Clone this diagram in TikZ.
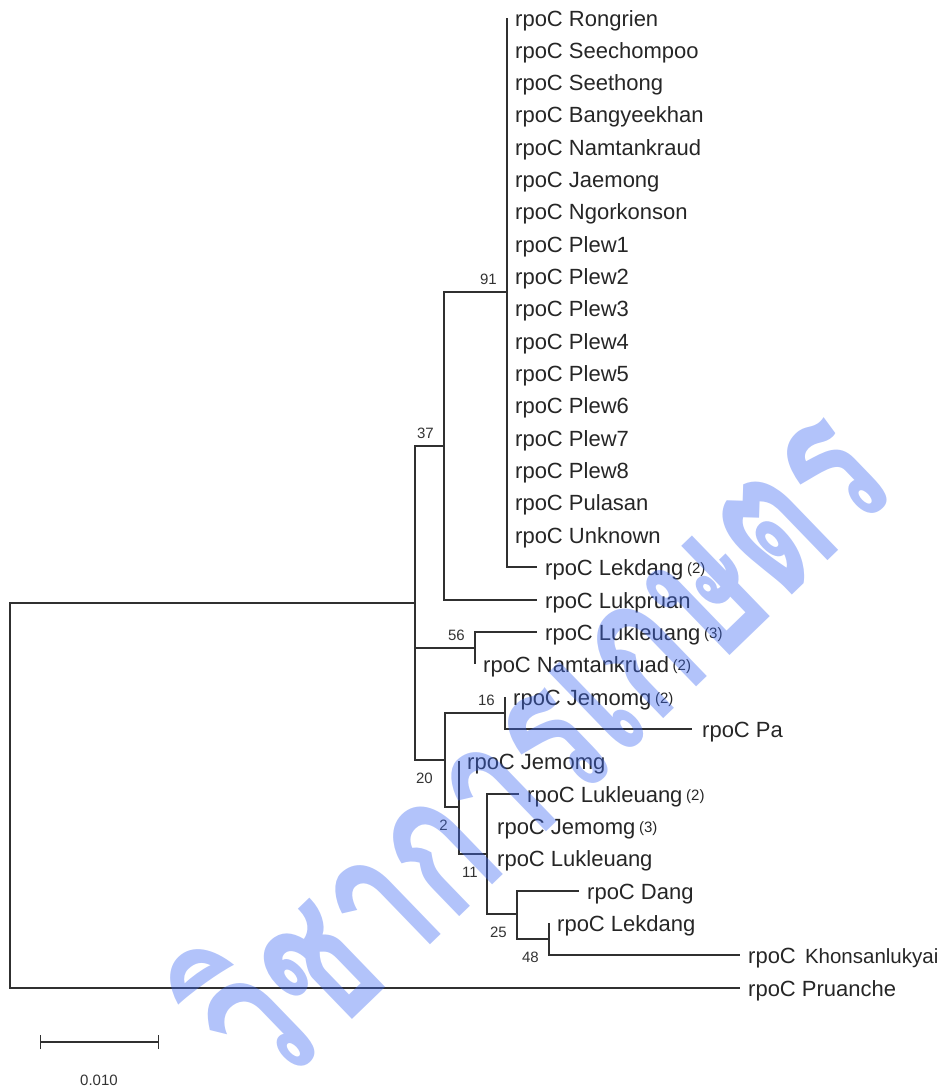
\documentclass[tikz,border=0pt]{standalone}
\usepackage{graphicx}
\usepackage{fontspec}
\setmainfont{Liberation Sans}
\newfontfamily\thaifont[Script=Thai]{Loma}
\usetikzlibrary{positioning, arrows.meta}
\definecolor{brcolor}{HTML}{303030}
\definecolor{wmcolor}{HTML}{3E69F2}

\newcommand{\cnt}[1]{\,\raisebox{2pt}{\fontsize{15}{17}\selectfont(#1)}}

\begin{document}
\begin{tikzpicture}[
    x=1pt, y=-1pt,
    br/.style={draw=brcolor, line width=1.4pt},
    taxon/.style={anchor=west, inner sep=0pt, text height=16pt, text depth=0pt, font=\fontsize{22}{26}\selectfont, text=black!85},
    bsup/.style={anchor=base east, inner sep=0pt, font=\fontsize{15}{18}\selectfont, text=black!80, xshift=-10pt, yshift=8pt},
    bsdn/.style={anchor=base east, inner sep=0pt, font=\fontsize{15}{18}\selectfont, text=black!80, xshift=-11pt, yshift=-23pt},
    wm/.style={rotate=44, inner sep=0pt, text=wmcolor, opacity=0.4, font=\thaifont\bfseries\fontsize{139}{160}\selectfont},
  ]
    \useasboundingbox (0,0) rectangle (949,1090);

    % inner nodes
    \coordinate (root) at (10,795);
    \coordinate (nin) at (415,603);
    \coordinate (n37) at (444,446);
    \coordinate (n91) at (507,292);
    \coordinate (n56) at (475,648);
    \coordinate (n20) at (445,760);
    \coordinate (n16) at (505,713);
    \coordinate (n2) at (459,807);
    \coordinate (n11) at (487,854);
    \coordinate (n25) at (517,914);
    \coordinate (n48) at (549,939);

    % big clade, zero length tips
    \foreach \name [count=\i from 0] in {Rongrien, Seechompoo, Seethong, Bangyeekhan, Namtankraud, Jaemong, Ngorkonson, Plew1, Plew2, Plew3, Plew4, Plew5, Plew6, Plew7, Plew8, Pulasan, Unknown} {
      \coordinate (t\i) at (507,{18+32.33*\i});
      \node[taxon, right=8pt of t\i] (l\i) {rpoC \name};
    }

    % other tips
    \coordinate (t17) at (537,567);
    \coordinate (t18) at (537,600);
    \coordinate (t19) at (537,632);
    \coordinate (t20) at (475,664);
    \coordinate (t21) at (505,697);
    \coordinate (t22) at (692,729);
    \coordinate (t23) at (459,761);
    \coordinate (t24) at (519,794);
    \coordinate (t25) at (487,826);
    \coordinate (t26) at (487,858);
    \coordinate (t27) at (579,891);
    \coordinate (t28) at (549,923);
    \coordinate (t29) at (740,955);
    \coordinate (t30) at (740,988);

    \node[taxon, right=8pt of t17] (l17) {rpoC Lekdang\cnt{2}};
    \node[taxon, right=8pt of t18] (l18) {rpoC Lukpruan};
    \node[taxon, right=8pt of t19] (l19) {rpoC Lukleuang\cnt{3}};
    \node[taxon, right=8pt of t20] (l20) {rpoC Namtankruad\cnt{2}};
    \node[taxon, right=8pt of t21] (l21) {rpoC Jemomg\cnt{2}};
    \node[taxon, right=10pt of t22] (l22) {rpoC Pa};
    \node[taxon, right=8pt of t23] (l23) {rpoC Jemomg};
    \node[taxon, right=8pt of t24] (l24) {rpoC Lukleuang\cnt{2}};
    \node[taxon, right=10pt of t25] (l25) {rpoC Jemomg\cnt{3}};
    \node[taxon, right=10pt of t26] (l26) {rpoC Lukleuang};
    \node[taxon, right=8pt of t27] (l27) {rpoC Dang};
    \node[taxon, right=8pt of t28] (l28) {rpoC Lekdang};
    \node[taxon, right=8pt of t29] (l29) {rpoC\hspace{3pt} {\fontsize{20.5}{24}\selectfont Khonsanlukyai}};
    \node[taxon, right=8pt of t30] (l30) {rpoC Pruanche};

    % branches
    \draw[br] (t0) -- (t16);
    \draw[br] (n91) |- (t17);
    \draw[br] (n37) |- (n91);
    \draw[br] (n37) |- (t18);
    \draw[br] (nin) |- (n37);
    \draw[br] (nin) |- (n56);
    \draw[br] (nin) |- (n20);
    \draw[br] (root) |- (nin);
    \draw[br] (root) |- (t30);
    \draw[br] (n56) |- (t19);
    \draw[br] (n56) |- (t20);
    \draw[br] (n20) |- (n16);
    \draw[br] (n20) |- (n2);
    \draw[br] (n16) |- (t21);
    \draw[br] (n16) |- (t22);
    \draw[br] (n2) |- (t23);
    \draw[br] (n2) |- (n11);
    \draw[br] (n11) |- (t24);
    \draw[br] (n11) |- (n25);
    \draw[br] (n25) |- (t27);
    \draw[br] (n25) |- (n48);
    \draw[br] (n48) |- (t28);
    \draw[br] (n48) |- (t29);

    % bootstrap values
    \node[bsup] (b91) at (n91) {91};
    \node[bsup] (b37) at (n37) {37};
    \node[bsup] (b56) at (n56) {56};
    \node[bsup] (b16) at (n16) {16};
    \node[bsdn, xshift=-1pt] (b20) at (n20) {20};
    \node[bsdn] (b2) at (n2) {2};
    \node[bsdn, xshift=2pt] (b11) at (n11) {11};
    \node[bsdn, xshift=1pt] (b25) at (n25) {25};
    \node[bsdn, xshift=1pt] (b48) at (n48) {48};

    % scale bar
    \coordinate (sbl) at (40,1042);
    \coordinate (sbr) at (159,1042);
    \draw[br, line width=1.2pt, {Bar[width=14pt]}-{Bar[width=14pt]}] (sbl) -- (sbr);
    \node[inner sep=0pt, font=\fontsize{15}{18}\selectfont, text=black!80] (sblbl) at (99,1080) {0.010};

    % watermark
    \node[wm] (wmark) at (528,736) {\scalebox{1}[1.45]{วิชาการเกษตร}};
  \end{tikzpicture}
\end{document}
